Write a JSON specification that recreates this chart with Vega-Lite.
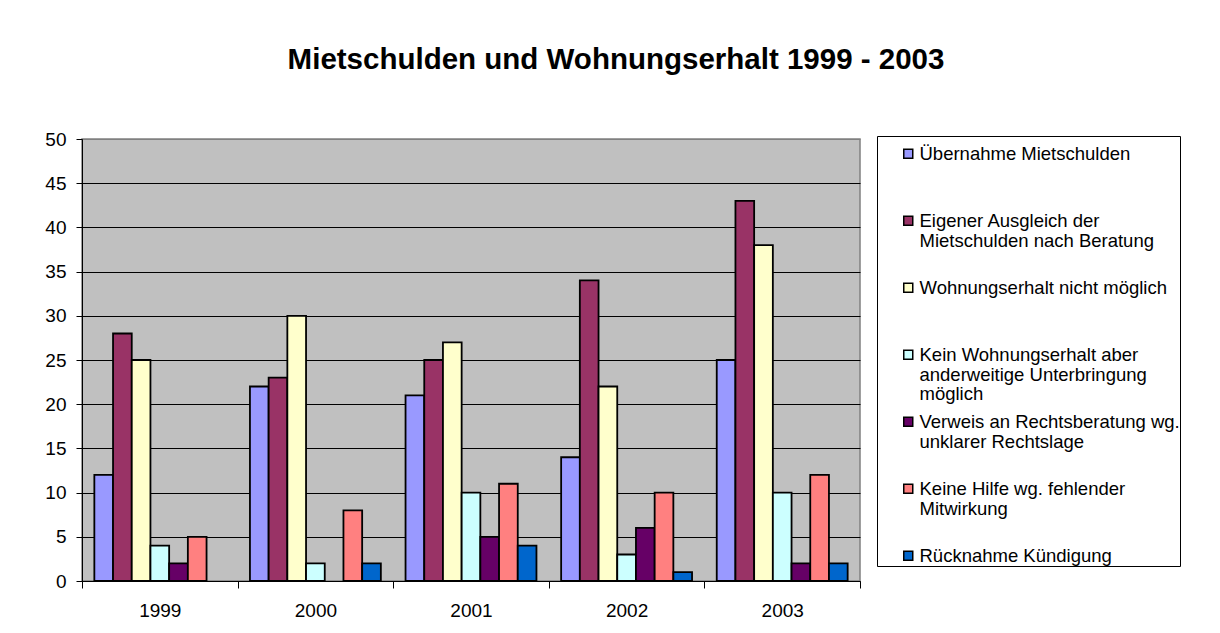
{
  "$schema": "https://vega.github.io/schema/vega-lite/v6.json",
  "width": 778,
  "height": 442,
  "autosize": {"type": "none"},
  "padding": {"left": 82, "top": 139, "right": 360, "bottom": 52},
  "background": "white",
  "title": {
    "text": "Mietschulden und Wohnungserhalt 1999 - 2003",
    "font": "Liberation Sans",
    "fontSize": 29.5,
    "fontWeight": "bold",
    "color": "black",
    "anchor": "middle",
    "frame": "group",
    "dx": 145,
    "offset": 32,
    "baseline": "alphabetic"
  },
  "data": {
    "values": [
      {"Jahr": "1999", "Kategorie": "Übernahme Mietschulden", "Wert": 12},
      {"Jahr": "1999", "Kategorie": "Eigener Ausgleich der Mietschulden nach Beratung", "Wert": 28},
      {"Jahr": "1999", "Kategorie": "Wohnungserhalt nicht möglich", "Wert": 25},
      {"Jahr": "1999", "Kategorie": "Kein Wohnungserhalt aber anderweitige Unterbringung möglich", "Wert": 4},
      {"Jahr": "1999", "Kategorie": "Verweis an Rechtsberatung wg. unklarer Rechtslage", "Wert": 2},
      {"Jahr": "1999", "Kategorie": "Keine Hilfe wg. fehlender Mitwirkung", "Wert": 5},
      {"Jahr": "2000", "Kategorie": "Übernahme Mietschulden", "Wert": 22},
      {"Jahr": "2000", "Kategorie": "Eigener Ausgleich der Mietschulden nach Beratung", "Wert": 23},
      {"Jahr": "2000", "Kategorie": "Wohnungserhalt nicht möglich", "Wert": 30},
      {"Jahr": "2000", "Kategorie": "Kein Wohnungserhalt aber anderweitige Unterbringung möglich", "Wert": 2},
      {"Jahr": "2000", "Kategorie": "Keine Hilfe wg. fehlender Mitwirkung", "Wert": 8},
      {"Jahr": "2000", "Kategorie": "Rücknahme Kündigung", "Wert": 2},
      {"Jahr": "2001", "Kategorie": "Übernahme Mietschulden", "Wert": 21},
      {"Jahr": "2001", "Kategorie": "Eigener Ausgleich der Mietschulden nach Beratung", "Wert": 25},
      {"Jahr": "2001", "Kategorie": "Wohnungserhalt nicht möglich", "Wert": 27},
      {"Jahr": "2001", "Kategorie": "Kein Wohnungserhalt aber anderweitige Unterbringung möglich", "Wert": 10},
      {"Jahr": "2001", "Kategorie": "Verweis an Rechtsberatung wg. unklarer Rechtslage", "Wert": 5},
      {"Jahr": "2001", "Kategorie": "Keine Hilfe wg. fehlender Mitwirkung", "Wert": 11},
      {"Jahr": "2001", "Kategorie": "Rücknahme Kündigung", "Wert": 4},
      {"Jahr": "2002", "Kategorie": "Übernahme Mietschulden", "Wert": 14},
      {"Jahr": "2002", "Kategorie": "Eigener Ausgleich der Mietschulden nach Beratung", "Wert": 34},
      {"Jahr": "2002", "Kategorie": "Wohnungserhalt nicht möglich", "Wert": 22},
      {"Jahr": "2002", "Kategorie": "Kein Wohnungserhalt aber anderweitige Unterbringung möglich", "Wert": 3},
      {"Jahr": "2002", "Kategorie": "Verweis an Rechtsberatung wg. unklarer Rechtslage", "Wert": 6},
      {"Jahr": "2002", "Kategorie": "Keine Hilfe wg. fehlender Mitwirkung", "Wert": 10},
      {"Jahr": "2002", "Kategorie": "Rücknahme Kündigung", "Wert": 1},
      {"Jahr": "2003", "Kategorie": "Übernahme Mietschulden", "Wert": 25},
      {"Jahr": "2003", "Kategorie": "Eigener Ausgleich der Mietschulden nach Beratung", "Wert": 43},
      {"Jahr": "2003", "Kategorie": "Wohnungserhalt nicht möglich", "Wert": 38},
      {"Jahr": "2003", "Kategorie": "Kein Wohnungserhalt aber anderweitige Unterbringung möglich", "Wert": 10},
      {"Jahr": "2003", "Kategorie": "Verweis an Rechtsberatung wg. unklarer Rechtslage", "Wert": 2},
      {"Jahr": "2003", "Kategorie": "Keine Hilfe wg. fehlender Mitwirkung", "Wert": 12},
      {"Jahr": "2003", "Kategorie": "Rücknahme Kündigung", "Wert": 2}
    ]
  },
  "mark": {"type": "bar", "stroke": "black", "strokeWidth": 1.8},
  "encoding": {
    "x": {
      "field": "Jahr",
      "type": "nominal",
      "scale": {"paddingInner": 0, "paddingOuter": 0},
      "axis": {
        "title": null,
        "labelAngle": 0,
        "tickBand": "extent",
        "tickSize": 7,
        "tickColor": "black",
        "tickWidth": 1,
        "domainColor": "black",
        "domainWidth": 1,
        "labelFont": "Liberation Sans",
        "labelFontSize": 19,
        "labelColor": "black",
        "labelPadding": 13,
        "grid": false
      }
    },
    "xOffset": {
      "field": "Kategorie",
      "type": "nominal",
      "scale": {
        "domain": [
          "Übernahme Mietschulden",
          "Eigener Ausgleich der Mietschulden nach Beratung",
          "Wohnungserhalt nicht möglich",
          "Kein Wohnungserhalt aber anderweitige Unterbringung möglich",
          "Verweis an Rechtsberatung wg. unklarer Rechtslage",
          "Keine Hilfe wg. fehlender Mitwirkung",
          "Rücknahme Kündigung"
        ],
        "paddingInner": 0,
        "paddingOuter": 0.66
      }
    },
    "y": {
      "field": "Wert",
      "type": "quantitative",
      "scale": {"domain": [0, 50], "nice": false},
      "axis": {
        "title": null,
        "values": [0, 5, 10, 15, 20, 25, 30, 35, 40, 45, 50],
        "grid": true,
        "gridColor": {"condition": {"test": "datum.value == 50", "value": "#808080"}, "value": "black"},
        "gridWidth": 1,
        "gridOpacity": 1,
        "tickSize": 6,
        "tickColor": "black",
        "domainColor": "black",
        "domainWidth": 1,
        "labelFont": "Liberation Sans",
        "labelFontSize": 19,
        "labelColor": "black",
        "labelPadding": 10
      }
    },
    "color": {
      "field": "Kategorie",
      "type": "nominal",
      "sort": null,
      "scale": {
        "domain": [
          "Übernahme Mietschulden",
          "Eigener Ausgleich der Mietschulden nach Beratung",
          "Wohnungserhalt nicht möglich",
          "Kein Wohnungserhalt aber anderweitige Unterbringung möglich",
          "Verweis an Rechtsberatung wg. unklarer Rechtslage",
          "Keine Hilfe wg. fehlender Mitwirkung",
          "Rücknahme Kündigung"
        ],
        "range": ["#9999FF", "#993366", "#FFFFCC", "#CCFFFF", "#660066", "#FF8080", "#0066CC"]
      },
      "legend": {
        "title": null,
        "orient": "none",
        "legendX": 795,
        "legendY": -3,
        "direction": "vertical",
        "strokeColor": "black",
        "fillColor": "white",
        "padding": 0,
        "symbolOffset": 22,
        "gridAlign": "all",
        "rowPadding": 0,
        "symbolType": "M-1,0.9H1V2.9H-1Z",
        "symbolSize": 81,
        "symbolStrokeColor": "black",
        "symbolStrokeWidth": 1.5,
        "labelFont": "Liberation Sans",
        "labelFontSize": 18.5,
        "labelColor": "black",
        "labelBaseline": "top",
        "labelOffset": 2,
        "labelLimit": 400,
        "labelExpr": "datum.value == 'Eigener Ausgleich der Mietschulden nach Beratung' ? ['Eigener Ausgleich der', 'Mietschulden nach Beratung'] : datum.value == 'Kein Wohnungserhalt aber anderweitige Unterbringung möglich' ? ['Kein Wohnungserhalt aber', 'anderweitige Unterbringung', 'möglich'] : datum.value == 'Verweis an Rechtsberatung wg. unklarer Rechtslage' ? ['Verweis an Rechtsberatung wg.', 'unklarer Rechtslage'] : datum.value == 'Keine Hilfe wg. fehlender Mitwirkung' ? ['Keine Hilfe wg. fehlender', 'Mitwirkung'] : datum.value"
      }
    }
  },
  "config": {
    "view": {"fill": "#C0C0C0", "stroke": "#808080", "strokeWidth": 1.5},
    "style": {"guide-label": {"lineHeight": 19.5}}
  }
}
